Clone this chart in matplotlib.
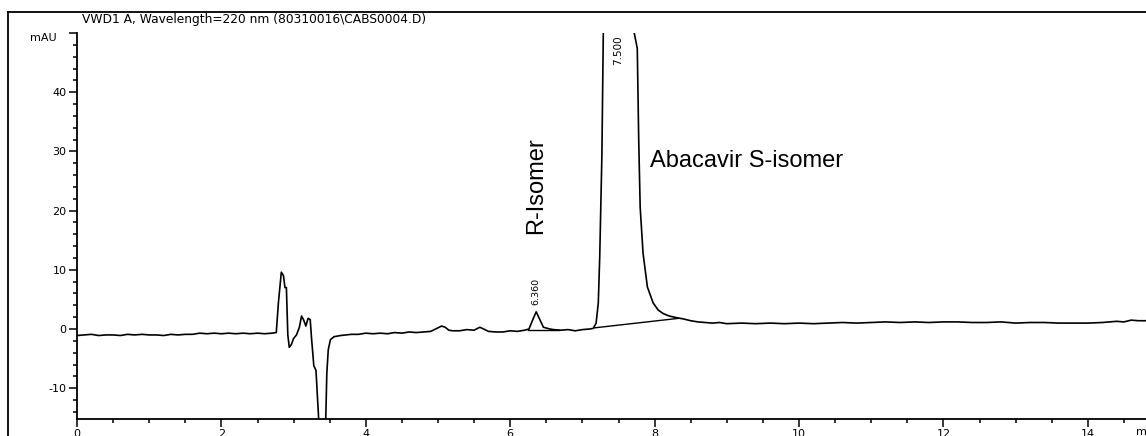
import matplotlib
matplotlib.use('Agg')
import matplotlib.pyplot as plt
from matplotlib.lines import Line2D
from matplotlib.ticker import MultipleLocator

# chromatogram trace (min, mAU), row by row
time = [0.0, 0.1, 0.2, 0.3, 0.4, 0.5, 0.6, 0.7, 0.8, 0.9,
        1.0, 1.1, 1.2, 1.3, 1.4, 1.5, 1.6, 1.7, 1.8, 1.9,
        2.0, 2.1, 2.2, 2.3, 2.4, 2.5, 2.6, 2.7, 2.76, 2.79,
        2.83, 2.86, 2.88, 2.9, 2.92, 2.94, 2.97, 3.0, 3.04, 3.08,
        3.11, 3.14, 3.17, 3.2, 3.23, 3.25, 3.28, 3.31, 3.33, 3.36,
        3.44, 3.46, 3.48, 3.51, 3.56, 3.65, 3.8, 3.9, 4.0, 4.1,
        4.2, 4.3, 4.4, 4.5, 4.6, 4.7, 4.8, 4.9, 5.0, 5.05,
        5.1, 5.15, 5.2, 5.3, 5.4, 5.5, 5.58, 5.65, 5.7, 5.8,
        5.9, 6.0, 6.1, 6.2, 6.26, 6.31, 6.36, 6.41, 6.46, 6.55,
        6.6, 6.7, 6.8, 6.9, 7.0, 7.1, 7.15, 7.19, 7.22, 7.24,
        7.27, 7.29, 7.5, 7.71, 7.76, 7.78, 7.8, 7.84, 7.9, 7.98,
        8.05, 8.12, 8.2, 8.31, 8.4, 8.5, 8.6, 8.7, 8.8, 8.9,
        9.0, 9.2, 9.4, 9.6, 9.8, 10.0, 10.2, 10.4, 10.6, 10.8,
        11.0, 11.2, 11.4, 11.6, 11.8, 12.0, 12.2, 12.4, 12.6, 12.8,
        13.0, 13.2, 13.4, 13.6, 13.8, 14.0, 14.2, 14.4, 14.5, 14.6,
        14.7, 14.8]
signal = [-1.1, -1.0, -0.9, -1.1, -1.0, -1.0, -1.1, -0.9, -1.0, -0.9,
          -1.0, -1.0, -1.1, -0.9, -1.0, -0.9, -0.9, -0.7, -0.8, -0.7,
          -0.8, -0.7, -0.8, -0.7, -0.8, -0.7, -0.8, -0.7, -0.6, 4.5,
          9.6, 9.0, 7.0, 7.0, -1.0, -3.1, -2.6, -1.6, -1.0, 0.3,
          2.2, 1.5, 0.5, 1.8, 1.6, -1.8, -6.2, -7.0, -11.5, -18.0,
          -18.0, -7.5, -3.5, -1.8, -1.3, -1.1, -0.9, -0.9, -0.7, -0.8,
          -0.7, -0.8, -0.6, -0.7, -0.5, -0.6, -0.5, -0.4, 0.2, 0.5,
          0.3, -0.2, -0.3, -0.3, -0.1, -0.2, 0.3, -0.1, -0.4, -0.5,
          -0.5, -0.3, -0.4, -0.2, 0.0, 1.5, 2.9, 1.6, 0.3, 0.0,
          -0.1, -0.2, -0.1, -0.3, -0.1, 0.0, 0.1, 1.0, 4.4, 12.2,
          29.4, 50.5, 85.0, 50.5, 47.4, 31.9, 20.6, 12.8, 7.1, 4.4,
          3.2, 2.6, 2.2, 1.9, 1.7, 1.4, 1.2, 1.1, 1.0, 1.1,
          0.9, 1.0, 0.9, 1.0, 0.9, 1.0, 0.9, 1.0, 1.1, 1.0,
          1.1, 1.2, 1.1, 1.2, 1.1, 1.2, 1.2, 1.1, 1.1, 1.2,
          1.0, 1.1, 1.1, 1.0, 1.0, 1.0, 1.1, 1.3, 1.2, 1.5,
          1.4, 1.4]

# integration baselines under the two peaks
rbase_t = [6.24, 6.68]
rbase_v = [-0.1, -0.1]
sbase_t = [7.17, 8.33]
sbase_v = [0.2, 1.8]

yticks = [-10, 0, 10, 20, 30, 40]
xticks = [0, 2, 4, 6, 8, 10, 12, 14]

W, H = 1146, 436
fig = plt.figure(figsize=(W / 100, H / 100), dpi=100)
ax = fig.add_axes([77 / W, (H - 419) / H, (W - 77) / W, (419 - 33) / H])

ax.plot(time, signal, color='black', lw=1.2)
ax.plot(rbase_t, rbase_v, color='black', lw=1.0)
ax.plot(sbase_t, sbase_v, color='black', lw=1.0)

ax.set_xlim(0, 14.806)
ax.set_ylim(-15.2, 50)
ax.spines['top'].set_visible(False)
ax.spines['right'].set_visible(False)
ax.spines['left'].set_linewidth(1.3)
ax.spines['bottom'].set_linewidth(1.3)

ax.set_yticks(yticks + [50])
ax.set_yticklabels([str(v) for v in yticks] + [''])
ax.set_xticks(xticks)
ax.set_xticklabels([str(v) for v in xticks])
ax.yaxis.set_minor_locator(MultipleLocator(2))
ax.xaxis.set_minor_locator(MultipleLocator(0.5))
ax.tick_params(which='major', length=6, width=1.1, labelsize=8, pad=1.5)
ax.tick_params(which='minor', length=3, width=1.1)
ax.tick_params(axis='x', pad=1)

# peak labels (the 7.500 one runs into the top of the plot and is cut)
ax.text(7.49, 44.6, '7.500', rotation=90, ha='center', va='bottom',
        fontsize=7.5, clip_on=True)
ax.text(6.36, 4.0, '6.360', rotation=90, ha='center', va='bottom',
        fontsize=6.8)
ax.text(6.36, 16.0, 'R-Isomer', rotation=90, ha='center', va='bottom',
        fontsize=17, family='Liberation Sans')
ax.text(7.94, 27.3, 'Abacavir S-isomer', ha='left', va='baseline',
        fontsize=17, family='Liberation Sans')

# outer frame and header
fig.add_artist(Line2D([8 / W, 8 / W], [0, 1 - 12 / H], color='black', lw=1.3))
fig.add_artist(Line2D([8 / W, 1], [1 - 12 / H, 1 - 12 / H], color='black', lw=1.3))
fig.text(82 / W, 1 - 13 / H, 'VWD1 A, Wavelength=220 nm (80310016\\CABS0004.D)',
         ha='left', va='top', fontsize=8.8)
fig.text(57 / W, 1 - 33 / H, 'mAU', ha='right', va='top', fontsize=8)
fig.text(1136 / W, 1 - 427 / H, 'min', ha='left', va='top', fontsize=8)

fig.savefig('out.png', dpi=100)
